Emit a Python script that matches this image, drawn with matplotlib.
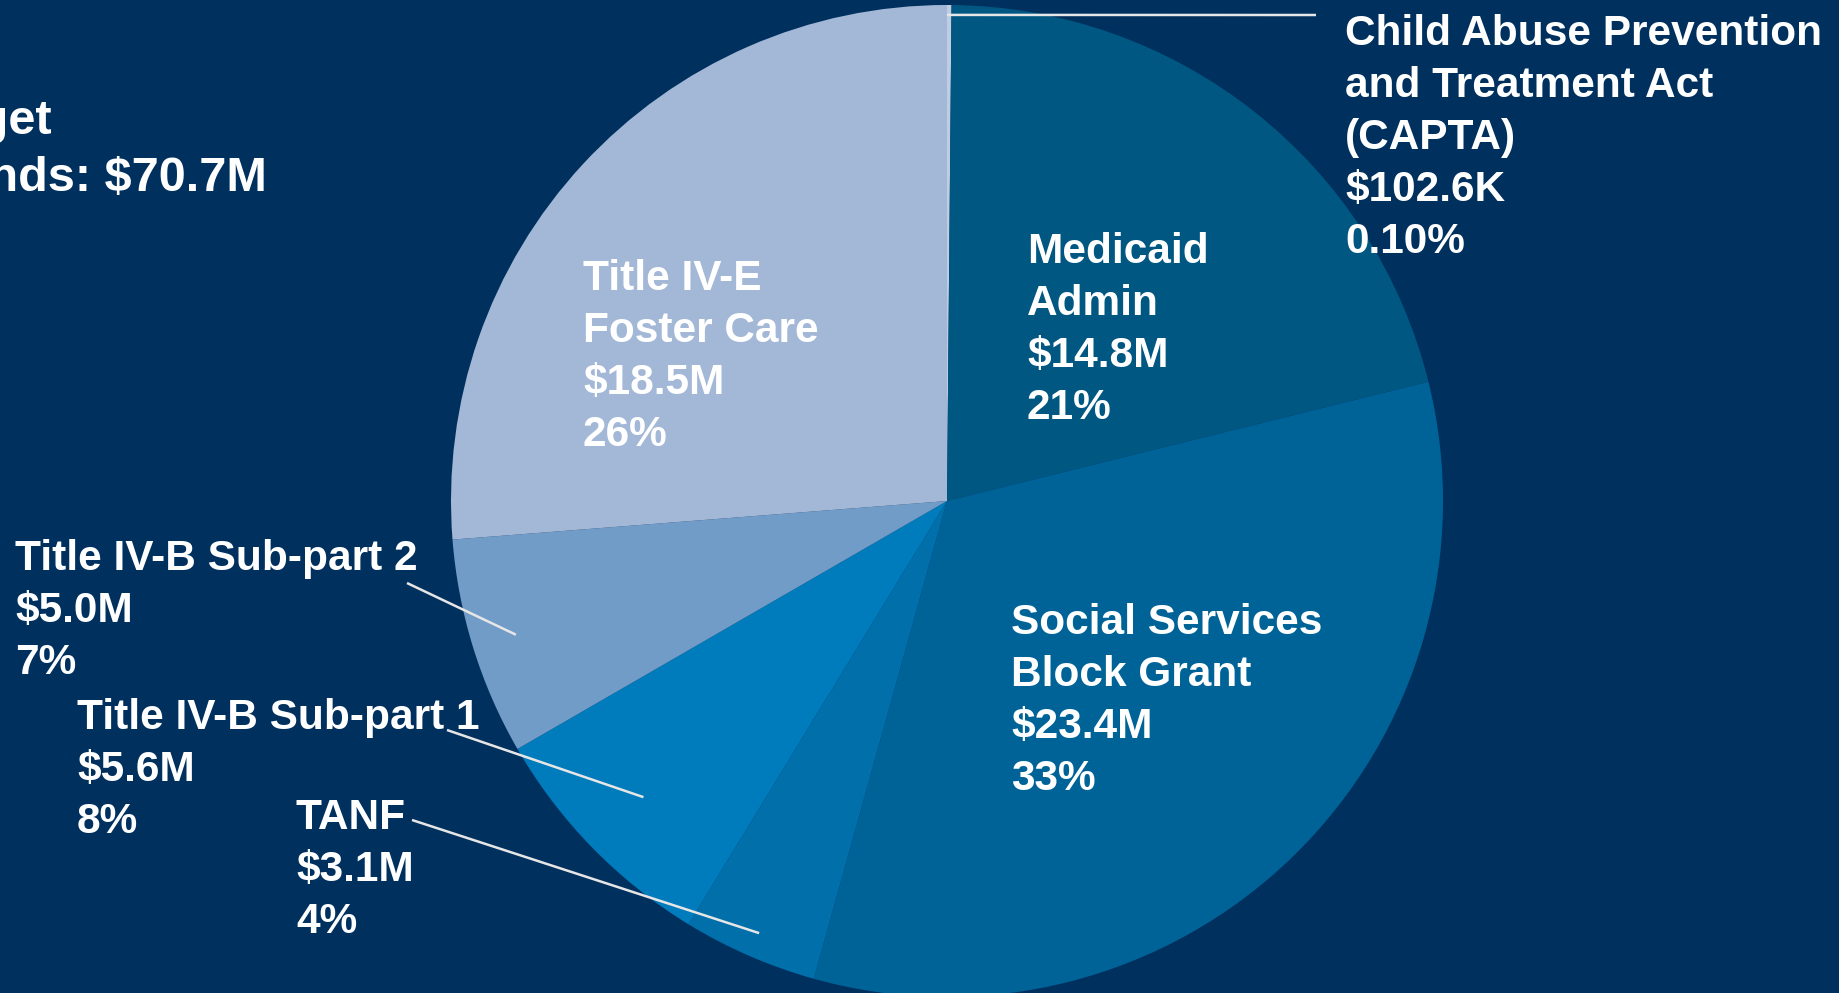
import numpy as np
import matplotlib
matplotlib.use('Agg')
import matplotlib.pyplot as plt

# budget pieces, clockwise from the top
names = ['Child Abuse Prevention\nand Treatment Act\n(CAPTA)', 'Medicaid\nAdmin',
         'Social Services\nBlock Grant', 'TANF', 'Title IV-B Sub-part 1',
         'Title IV-B Sub-part 2', 'Title IV-E\nFoster Care']
amounts = [0.1026, 14.8, 23.4, 3.1, 5.6, 5.0, 18.5]          # $M
amount_labels = ['$102.6K', '$14.8M', '$23.4M', '$3.1M', '$5.6M', '$5.0M', '$18.5M']
pct_labels = ['0.10%', '21%', '33%', '4%', '8%', '7%', '26%']
total_label = '$70.7M'

colors = ['#BFCDE2', '#005782', '#006398', '#006FAA', '#007BBB', '#729CC8', '#A3B8D6']
bg = '#00305E'

W, H = 1839, 993
fig = plt.figure(figsize=(W / 100, H / 100), dpi=100, facecolor=bg)
ax = fig.add_axes([0, 0, 1, 1])
ax.set_facecolor(bg)

cx, cy, R = 947, H - 501, 496
wedges, _ = ax.pie(amounts, colors=colors, startangle=90, counterclock=False,
                   center=(cx, cy), radius=R, wedgeprops=dict(linewidth=0))
ax.set_xlim(0, W)
ax.set_ylim(0, H)
ax.set_aspect('auto')
ax.axis('off')

font = dict(family='Liberation Sans', weight='bold', color='white')
fs = 30.5
step = 52

# label anchors (left x, first baseline y from top) and leader lines
label_pos = [(1345, 45), (1027, 263), (1011, 634), (296, 829), (77, 729), (15, 570), (583, 290)]
leader = {0: (0.98, (1316, 15)), 3: (0.95, (412, 820)), 4: (0.855, (447, 730)),
          5: (0.91, (407, 583))}

for i, w in enumerate(wedges):
    lines = names[i].split('\n') + [amount_labels[i], pct_labels[i]]
    x0, y0 = label_pos[i]
    for k, line in enumerate(lines):
        ax.text(x0, H - (y0 + k * step), line, fontsize=fs, ha='left',
                va='baseline', **font)
    if i in leader:
        rf, (lx, ly) = leader[i]
        ang = np.deg2rad((w.theta1 + w.theta2) / 2)
        if i == 0:
            ang = np.deg2rad(90)
        px = cx + rf * R * np.cos(ang)
        py = cy + rf * R * np.sin(ang)
        ax.plot([lx, px], [H - ly, py], color='#E6E6E6', lw=1.8, solid_capstyle='butt')

# title, cut off at the left edge as in the slide
ax.text(52, H - 134, 'Federal Budget', fontsize=35, ha='right', va='baseline', **font)
ax.text(267, H - 191, 'Total Federal Funds: ' + total_label, fontsize=35, ha='right',
        va='baseline', **font)

fig.savefig('out.png', dpi=100, facecolor=bg)
